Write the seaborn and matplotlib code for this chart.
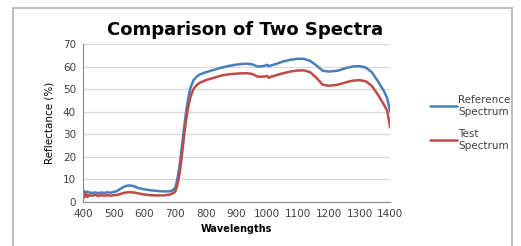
import matplotlib.pyplot as plt
import matplotlib.patches as patches
import seaborn as sns
import pandas as pd

# Reflectance spectra
wavelengths = [400, 405, 410, 415, 420, 430, 440, 450, 460, 470, 480, 490, 500, 510, 520, 530,
               540, 550, 560, 570, 580, 600, 620, 640, 660, 680, 690, 700, 705, 710, 715, 720,
               725, 730, 735, 740, 745, 750, 760, 770, 780, 800, 825, 850, 875, 900, 930, 950,
               970, 990, 1000, 1005, 1010, 1030, 1050, 1075, 1100, 1120, 1140, 1160, 1180,
               1200, 1230, 1260, 1280, 1300, 1320, 1340, 1360, 1380, 1390, 1400]
reference = [4.0, 4.8, 3.8, 4.6, 4.2, 4.0, 4.2, 3.9, 4.2, 4.0, 4.3, 4.1, 4.4, 4.8, 5.6, 6.5,
             7.1, 7.3, 7.2, 6.8, 6.2, 5.6, 5.2, 4.9, 4.7, 4.7, 5.0, 6.2, 8.5, 12.0, 16.5, 22.0,
             28.0, 33.5, 39.0, 43.5, 47.5, 50.5, 54.0, 55.5, 56.5, 57.5, 58.5, 59.5, 60.3, 60.9,
             61.3, 61.0, 60.0, 60.3, 60.8, 60.1, 60.4, 61.2, 62.2, 63.0, 63.5, 63.4, 62.5,
             60.5, 58.2, 57.8, 58.2, 59.5, 60.1, 60.2, 59.6, 57.5, 53.5, 49.0, 46.0, 40.0]
test = [3.2, 2.0, 3.8, 2.2, 3.0, 2.8, 3.1, 2.7, 3.0, 2.8, 3.0, 2.8, 3.0, 3.1, 3.4, 3.9,
        4.2, 4.3, 4.3, 4.1, 3.8, 3.3, 3.0, 2.9, 2.9, 3.2, 3.6, 4.5, 6.3, 9.0, 13.0, 18.0,
        24.0, 30.0, 35.5, 40.0, 43.5, 46.5, 50.0, 51.8, 52.8, 54.0, 55.0, 56.0, 56.6, 56.9,
        57.1, 56.8, 55.5, 55.6, 55.8, 55.0, 55.4, 56.2, 57.0, 57.8, 58.3, 58.3, 57.5,
        55.0, 52.0, 51.5, 52.0, 53.2, 53.8, 54.0, 53.5, 51.5, 47.5, 43.0, 40.5, 33.0]

labels = ["Reference\nSpectrum", "Test\nSpectrum"]
colors = ["#4A7EBB", "#BE4B48"]

df = pd.DataFrame({
    "Wavelengths": wavelengths * 2,
    "Reflectance": reference + test,
    "Series": [labels[0]] * len(wavelengths) + [labels[1]] * len(wavelengths),
})

sns.set_style("white")
plt.rcParams['font.family'] = ['DejaVu Sans']

fig = plt.figure(figsize=(5.21, 2.46), dpi=100)
ax = fig.add_axes([0.159, 0.179, 0.59, 0.642])

sns.lineplot(data=df, x="Wavelengths", y="Reflectance", hue="Series",
             palette=colors, linewidth=1.8, ax=ax)

ax.set_xlim(400, 1400)
ax.set_ylim(0, 70)
ax.set_xticks(range(400, 1401, 100))
ax.set_yticks(range(0, 71, 10))
ax.tick_params(axis='both', labelsize=7.5, length=3, color='#888888',
               width=0.8, direction='out', pad=2, labelcolor='#404040')
ax.grid(axis='y', color='#D9D9D9', linewidth=0.9)
ax.set_axisbelow(True)
for side in ['top', 'right']:
    ax.spines[side].set_visible(False)
for side in ['left', 'bottom']:
    ax.spines[side].set_color('#888888')
    ax.spines[side].set_linewidth(0.8)

ax.set_xlabel("Wavelengths", fontsize=7, fontweight='bold', labelpad=4, color='black')
ax.set_ylabel("Reflectance (%)", fontsize=7.5, fontfamily='Liberation Sans Narrow',
              labelpad=6, color='black')
fig.text(0.47, 0.88, "Comparison of Two Spectra", ha='center', va='center',
         fontsize=13, fontweight='bold', color='black')

leg = ax.legend(loc='center left', bbox_to_anchor=(1.1, 0.5), frameon=False,
                fontsize=7.5, handlelength=2.6, handletextpad=0.1, labelspacing=1.2)
for t in leg.get_texts():
    t.set_color('#404040')

# outer chart border
fig.patches.append(patches.Rectangle((13 / 521, -0.1), 499 / 521, 1 - 8 / 246 + 0.1,
                                     transform=fig.transFigure, fill=False,
                                     edgecolor='#BFBFBF', linewidth=1.5))

fig.savefig("out.png", dpi=100)
